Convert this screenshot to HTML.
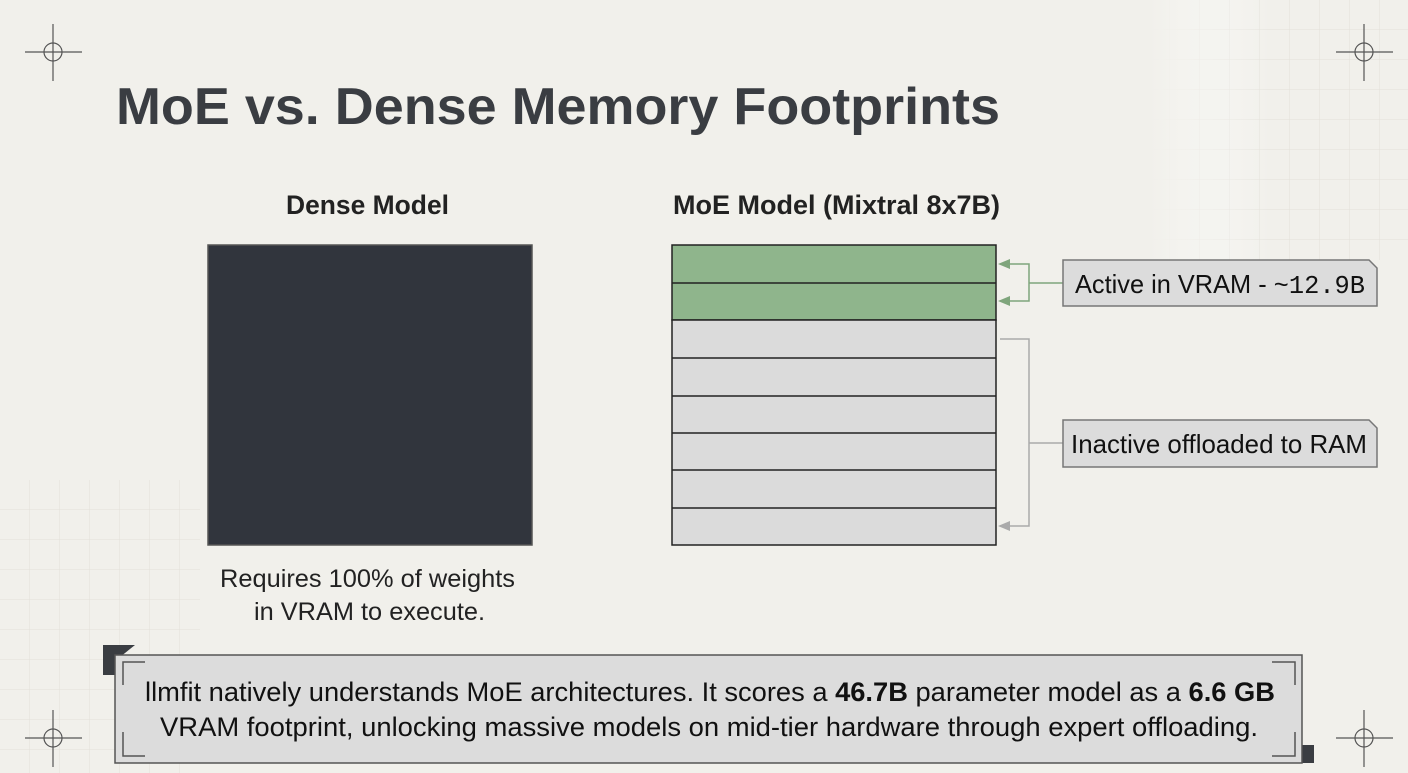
<!DOCTYPE html>
<html><head><meta charset="utf-8"><style>
html,body{margin:0;padding:0;width:1408px;height:773px;overflow:hidden;background:#f1f0eb;}
svg{display:block}
text{font-family:"Liberation Sans",sans-serif;}
</style></head><body>
<svg width="1408" height="773" viewBox="0 0 1408 773" xmlns="http://www.w3.org/2000/svg">
<defs>
<pattern id="g" width="30" height="30" patternUnits="userSpaceOnUse"><path d="M30 0V30H0" fill="none" stroke="#dedcd4" stroke-width="1"/></pattern>
<linearGradient id="fr" x1="1" y1="0" x2="0" y2="0"><stop offset="0" stop-color="#fff" stop-opacity="0"/><stop offset="1" stop-color="#f1f0eb" stop-opacity="1"/></linearGradient>
</defs>
<rect x="1150" y="0" width="258" height="260" fill="url(#g)" opacity="0.8"/>
<rect x="1150" y="0" width="120" height="260" fill="url(#fr)"/>
<rect x="0" y="480" width="200" height="293" fill="url(#g)" opacity="0.8"/>
<g stroke="#555" stroke-width="1.2" fill="none">
<circle cx="53" cy="52" r="9"/><path d="M25 52H82M53 24V81"/>
<circle cx="1364" cy="52" r="9"/><path d="M1336 52H1393M1364 24V81"/>
<circle cx="53" cy="738" r="9"/><path d="M25 738H82M53 710V767"/>
<circle cx="1364" cy="738" r="9"/><path d="M1336 738H1393M1364 710V767"/>
</g>
<text x="116" y="124" font-size="52" font-weight="bold" fill="#3a3d42" textLength="884" lengthAdjust="spacingAndGlyphs">MoE vs. Dense Memory Footprints</text>
<text x="286" y="214" font-size="27" font-weight="bold" fill="#222" textLength="163" lengthAdjust="spacingAndGlyphs">Dense Model</text>
<text x="673" y="214" font-size="27" font-weight="bold" fill="#222" textLength="327" lengthAdjust="spacingAndGlyphs">MoE Model (Mixtral 8x7B)</text>
<rect x="208" y="245" width="324" height="300" fill="#31353d" stroke="#555" stroke-width="1.5"/>
<text x="220" y="587" font-size="25" fill="#222" textLength="295" lengthAdjust="spacingAndGlyphs">Requires 100% of weights</text>
<text x="254" y="620" font-size="25" fill="#222" textLength="231" lengthAdjust="spacingAndGlyphs">in VRAM to execute.</text>
<g stroke="#222" stroke-width="1.5">
<rect x="672" y="245" width="324" height="75" fill="#8fb58c"/>
<rect x="672" y="320" width="324" height="225" fill="#dbdbdb"/>
<path d="M672 283H996M672 358H996M672 396H996M672 433H996M672 470H996M672 508H996"/>
</g>
<g stroke="#7fa57c" stroke-width="1.5" fill="none">
<path d="M1000 264H1029V301H1000M1029 283H1063"/>
</g>
<g fill="#7fa57c"><path d="M998 264l12 -5v10z"/><path d="M998 301l12 -5v10z"/></g>
<g stroke="#aaa" stroke-width="1.5" fill="none"><path d="M1000 339H1029V526H1000M1029 443H1063"/></g>
<path d="M998 526l12 -5v10z" fill="#aaa"/>
<path d="M1063 260H1369L1377 268V306H1063Z" fill="#dcdcdc" stroke="#777" stroke-width="1.5"/>
<text x="1075" y="293" font-size="26" fill="#111" textLength="290" lengthAdjust="spacingAndGlyphs">Active in VRAM - <tspan font-family="Liberation Mono,monospace">~12.9B</tspan></text>
<path d="M1063 420H1369L1377 428V467H1063Z" fill="#dcdcdc" stroke="#777" stroke-width="1.5"/>
<text x="1071" y="453" font-size="26" fill="#111" textLength="296" lengthAdjust="spacingAndGlyphs">Inactive offloaded to RAM</text>
<path d="M103 675V645H135L120 657V675Z" fill="#3a3d42"/>
<path d="M1314 745V763H1285L1300 750V745Z" fill="#3a3d42"/>
<rect x="115" y="655" width="1187" height="108" fill="#dcdcdc" stroke="#555" stroke-width="1.5"/>
<g stroke="#555" stroke-width="1.5" fill="none">
<path d="M123 685V662H145M123 732V756H145M1272 662H1295V685M1272 756H1295V732"/>
</g>
<text x="145" y="701" font-size="27" fill="#111" textLength="1130" lengthAdjust="spacingAndGlyphs">llmfit natively understands MoE architectures. It scores a <tspan font-weight="bold">46.7B</tspan> parameter model as a <tspan font-weight="bold">6.6 GB</tspan></text>
<text x="160" y="736" font-size="27" fill="#111" textLength="1098" lengthAdjust="spacingAndGlyphs">VRAM footprint, unlocking massive models on mid-tier hardware through expert offloading.</text>
</svg>
</body></html>
